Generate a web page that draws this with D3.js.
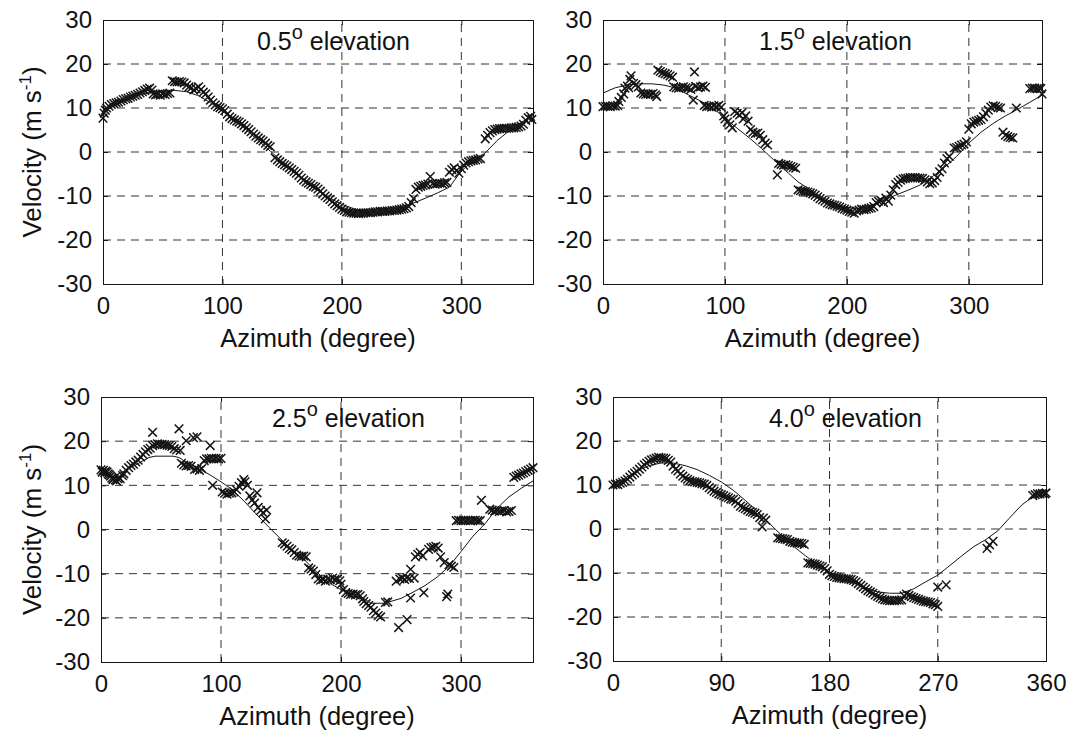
<!DOCTYPE html>
<html>
<head>
<meta charset="utf-8">
<script src="https://cdn.jsdelivr.net/npm/d3@7/dist/d3.min.js"></script>
<style>
  html, body { margin: 0; padding: 0; background: #fff; }
  svg { display: block; }
  text { font-family: "Liberation Sans", Arial, Helvetica, sans-serif; fill: #111; }
</style>
</head>
<body>
<svg id="chart" width="1070" height="734"></svg>
<script>
// Radial velocity vs azimuth at four elevation angles: observed (×) and fitted curve.
const elevations = ["0.5", "1.5", "2.5", "4.0"];
const velocityTicks = [-30, -20, -10, 0, 10, 20, 30];
const azimuthTicksA = [0, 100, 200, 300];
const azimuthTicksB = [0, 90, 180, 270, 360];

// Observed radial velocity, [azimuth deg, velocity m/s]
const obs05 = [[0,7.7],[1,8.8],[2,9.5],[3,10],[5,10.4],[7,10.8],[9,11],[11,11.2],[13,11.3],[15,11.6],[17,11.9],[19,12.1],[21,12.2],[23,12.5],[25,12.7],[27,12.9],[29,13.1],[31,13.4],[33,13.7],[35,14],[37,14.3],[39,14.5],[41,14.1],[42,13.2],[44,13],[46,13.1],[48,12.9],[50,13.2],[52,13.1],[54,13.3],[56,13.4],[58,16.2],[60,16],[62,15.9],[64,16],[66,15.9],[68,15.7],[70,15.2],[72,14.8],[74,14.6],[76,14.1],[78,14.4],[80,14.8],[82,14.2],[84,13.6],[86,13.2],[88,12.5],[90,11.8],[92,11.2],[94,10.7],[96,10.3],[98,10.1],[100,9.8],[102,9.4],[104,8.6],[106,8],[108,7.6],[110,7.3],[112,7],[114,6.8],[116,6.4],[118,6],[120,5.5],[122,5.1],[124,4.6],[126,4.1],[128,3.6],[130,3.2],[132,2.8],[134,2.5],[136,2],[138,1.5],[140,1.2],[144,-1.3],[146,-1.8],[148,-2.2],[150,-2.6],[152,-2.9],[154,-3.2],[156,-3.6],[158,-4],[160,-4.4],[162,-4.8],[164,-5.3],[166,-5.9],[168,-6.4],[170,-6.8],[172,-7.1],[174,-7.4],[176,-7.8],[178,-8],[180,-8.4],[182,-8.9],[184,-9.5],[186,-10],[188,-10.4],[190,-10.8],[192,-11.3],[194,-11.8],[196,-12.2],[198,-12.6],[200,-13],[202,-13.3],[204,-13.6],[206,-13.7],[208,-13.8],[210,-13.9],[212,-13.9],[214,-14],[216,-13.9],[218,-13.9],[220,-13.8],[222,-13.8],[224,-13.8],[226,-13.7],[228,-13.6],[230,-13.6],[232,-13.5],[234,-13.5],[236,-13.5],[238,-13.4],[240,-13.4],[242,-13.3],[244,-13.3],[246,-13.2],[248,-13.1],[250,-13],[252,-12.9],[254,-12.7],[256,-12.4],[258,-11.5],[260,-10.6],[262,-8.5],[264,-8],[266,-7.8],[268,-7.6],[270,-7.5],[272,-7.3],[274,-5.6],[276,-7.2],[278,-7.3],[280,-7.2],[282,-7.1],[284,-7.2],[286,-7],[288,-6.9],[290,-4.6],[292,-4],[294,-3.6],[296,-4.2],[298,-4.8],[300,-3.8],[302,-3],[304,-2.5],[306,-2.2],[308,-2],[310,-1.9],[312,-1.8],[314,-1.6],[316,-1.5],[320,3],[322,3.8],[324,4.4],[326,4.8],[328,5.1],[330,5.2],[332,5.3],[334,5.3],[336,5.4],[338,5.4],[340,5.4],[342,5.5],[344,5.5],[346,5.6],[348,5.7],[350,5.9],[352,6.3],[354,7.2],[356,7.8],[358,8.1],[359,7.4]];

const obs15 = [[0,10.3],[2,10.4],[4,10.4],[6,10.3],[8,10.5],[10,10.4],[12,10.6],[13,11.5],[15,12.4],[17,13.2],[18,14.5],[20,15],[21,14.6],[22,16.5],[23,17.3],[25,15.6],[27,15.3],[29,14.8],[31,13.4],[33,13.2],[35,13.1],[37,13.2],[39,13.1],[41,13.3],[43,13],[44,12.6],[45,18.6],[47,18.3],[49,18],[51,17.8],[53,17.6],[55,17.3],[57,17],[58,14.8],[60,14.6],[62,14.5],[64,14.7],[66,14.8],[68,14.6],[70,14.5],[72,14.2],[74,11.8],[75,18.2],[76,14.9],[78,14.6],[80,14.8],[82,15],[84,14.7],[83,10.6],[85,10.3],[87,10.4],[89,10.2],[91,10.5],[93,10.3],[95,10.6],[97,10.2],[99,8.2],[100,7.5],[102,6.8],[104,6.2],[106,5.5],[108,9.2],[110,8.8],[112,8.4],[114,8.9],[115,7.5],[117,8.2],[119,7],[121,5.1],[123,4.5],[125,4.2],[127,4.3],[129,3.8],[131,2.8],[133,2],[135,1.6],[143,-5.2],[144,-2.6],[146,-2.8],[148,-3],[150,-2.9],[152,-3.1],[154,-3.3],[156,-3.5],[158,-3.7],[160,-8.6],[162,-8.8],[164,-8.9],[166,-9],[168,-9.1],[170,-9.3],[172,-9.5],[174,-9.8],[176,-10.2],[178,-10.6],[180,-10.9],[182,-11.2],[184,-11.6],[186,-11.8],[188,-12],[190,-12.1],[192,-12.3],[194,-12.5],[196,-12.8],[198,-13],[200,-13.2],[202,-13.5],[204,-13.7],[206,-13.9],[208,-13.4],[210,-13.2],[212,-13],[214,-13.1],[216,-13],[218,-12.8],[220,-12.7],[222,-12.4],[224,-11.5],[226,-11.2],[228,-11],[230,-11.5],[232,-10.5],[234,-11.2],[236,-9.8],[238,-8.6],[240,-7.4],[242,-6.9],[244,-6.4],[246,-6.1],[248,-6],[250,-5.9],[252,-5.8],[254,-5.8],[256,-5.8],[258,-5.9],[260,-5.9],[262,-6],[264,-6.3],[266,-6.8],[268,-7.2],[270,-7],[272,-6.5],[274,-5.8],[276,-4.5],[278,-3.8],[280,-2.5],[282,-1.5],[284,-1],[288,0.9],[290,1],[292,1.3],[294,1.6],[296,1.8],[298,2.3],[300,5.2],[302,6.4],[304,6.8],[306,7],[308,7.2],[310,7.4],[312,8],[314,8.8],[316,9.5],[318,10.2],[320,10.5],[322,10.4],[324,10.1],[326,10],[328,4.5],[330,3.8],[332,3.5],[334,3.3],[336,3.2],[339,10],[350,14.4],[352,14.5],[354,14.5],[356,14.4],[358,14.5],[359,14.4],[360,13.2]];

const obs25 = [[0,13.5],[1,13],[2,13.4],[3,12.9],[4,13.2],[5,13],[6,12.6],[7,12.4],[8,12.1],[9,11.6],[10,11.3],[11,11.6],[12,11.2],[13,11],[14,11.5],[15,11.8],[16,11.5],[18,12.2],[19,12.6],[21,13.4],[23,14],[25,14.5],[27,14.8],[29,15.3],[31,15.7],[33,16.4],[35,17],[37,17.6],[39,18.1],[41,18.4],[43,22],[43,19],[45,19.2],[47,19.4],[49,19.3],[51,19.3],[53,19.2],[55,19.1],[57,19],[59,18.8],[61,18.3],[63,18],[65,22.8],[66,17.9],[67,15],[69,14.6],[71,14.4],[73,14.5],[75,14.3],[71,20.1],[77,20.8],[80,21],[78,13.6],[80,13.7],[82,13.4],[84,13.8],[86,15.6],[88,16],[90,16],[91,19],[92,16.1],[93,10],[94,16],[96,16.1],[98,16],[100,16.1],[101,8.5],[103,8.2],[105,8],[107,8.2],[109,8.3],[111,8.5],[113,9],[115,9.8],[117,10.6],[119,11.3],[120,10.8],[122,10],[124,7.6],[126,6.7],[128,6],[130,8.3],[131,5],[133,4.3],[135,3.8],[137,2.4],[138,4.4],[151,-3],[153,-3.3],[155,-3.8],[157,-4.3],[159,-4.6],[161,-5.2],[163,-5.8],[165,-6],[167,-6.1],[169,-6],[171,-6.2],[173,-8.7],[175,-9],[177,-9.4],[179,-10.2],[181,-11.2],[183,-11.5],[185,-11.3],[187,-11.7],[189,-11.2],[191,-11.4],[193,-11],[195,-11.3],[197,-11.2],[199,-11.6],[200,-12.4],[202,-13.6],[204,-14.3],[206,-14.5],[208,-14.7],[210,-14.6],[212,-14.8],[214,-14.7],[216,-15],[218,-15.7],[219,-16.3],[221,-16.8],[223,-17.2],[225,-17.6],[227,-18.4],[229,-18.9],[231,-19.5],[233,-19.8],[237,-16.5],[239,-16.4],[246,-11.7],[248,-22.2],[249,-11.2],[251,-11],[253,-11.3],[255,-20.4],[255,-10.9],[257,-11.1],[258,-9],[261,-11],[258,-15.5],[262,-6.2],[264,-5.6],[266,-5.2],[268,-6],[269,-14.3],[273,-4.5],[275,-4.1],[277,-4],[279,-3.8],[281,-4.2],[283,-6.2],[286,-7.5],[288,-15.2],[289,-14.6],[290,-8],[292,-8.3],[294,-8.6],[296,2],[298,2.1],[300,2],[302,2.1],[304,2],[306,2.1],[308,2],[310,2.1],[312,2.1],[314,2],[316,2],[317,6.6],[324,4.6],[326,4.4],[328,4.2],[330,4.3],[332,4.1],[334,4.2],[336,4.3],[338,4],[340,4.1],[342,4.3],[344,11.8],[346,12.1],[348,12.3],[350,12.6],[352,12.8],[354,13.1],[356,13.4],[358,13.7],[360,14]];

const obs40 = [[0,10],[2,10.2],[4,10.1],[6,10.4],[8,10.6],[10,10.9],[12,11.3],[14,11.8],[16,12.3],[18,12.7],[20,13.1],[22,13.6],[24,14.1],[26,14.6],[28,15],[30,15.4],[32,15.7],[34,15.9],[36,16.1],[38,16.3],[40,16.2],[42,16.1],[44,16],[46,15.6],[48,15.2],[50,14.3],[52,13.6],[54,13.2],[56,12.5],[58,12],[60,11.6],[62,11.3],[64,11],[66,10.8],[68,10.7],[70,10.6],[72,10.5],[74,10.3],[76,10.2],[78,9.9],[80,9.4],[82,9],[84,8.6],[86,8.3],[88,8],[90,7.8],[92,7.6],[94,7.3],[96,7.1],[98,6.8],[100,6.7],[102,6.3],[104,5.8],[106,5.2],[108,4.9],[110,4.6],[112,4.3],[114,4],[116,3.8],[118,3.6],[120,3.3],[122,2.6],[124,0.5],[125,2.5],[127,2],[137,-2],[139,-2.1],[141,-2.2],[143,-2.3],[145,-2.4],[147,-2.8],[149,-3],[151,-3.1],[153,-3.2],[155,-3.2],[157,-3.3],[159,-3.5],[162,-7.7],[164,-7.8],[166,-7.9],[168,-8],[170,-8.2],[172,-8.4],[174,-8.6],[176,-9],[178,-9.5],[180,-10.3],[182,-10.6],[184,-10.8],[186,-11],[188,-11.1],[190,-11.2],[192,-11.3],[194,-11.3],[196,-11.4],[198,-11.5],[200,-11.7],[202,-12],[204,-12.4],[206,-12.8],[208,-13.2],[210,-13.6],[212,-14],[214,-14.3],[216,-14.6],[218,-15],[220,-15.3],[222,-15.6],[224,-15.9],[226,-16.1],[228,-16.2],[230,-16.3],[232,-16.3],[234,-16.3],[236,-16.2],[238,-16.2],[240,-16.1],[242,-15.2],[244,-14.8],[246,-15.1],[248,-15.4],[250,-15.6],[252,-15.8],[254,-16],[256,-16.2],[258,-16.4],[260,-16.5],[262,-16.6],[264,-16.7],[266,-17],[268,-17.2],[270,-17.6],[270,-13.2],[277,-12.7],[311,-4.4],[313,-3.6],[316,-2.8],[349,7.6],[351,7.8],[353,8],[355,8],[357,8.1],[359,8],[360,8.2]];

// Fitted velocity curves, [azimuth deg, velocity m/s]
const fit05 = [[0,9],[10,10.6],[20,11.9],[30,12.9],[40,13.5],[50,13.9],[60,14],[70,13.7],[80,12.8],[90,11.2],[100,9.3],[110,7.2],[120,5],[130,2.6],[140,0.2],[150,-2.2],[160,-4.6],[170,-6.8],[180,-8.8],[190,-10.5],[200,-11.9],[210,-12.9],[220,-13.5],[230,-13.7],[240,-13.5],[250,-12.9],[260,-11.6],[270,-10.5],[280,-9.3],[290,-8],[300,-4.3],[310,-2],[320,-0.2],[330,2.6],[340,4.8],[350,6.7],[360,8.3]];
const fit15 = [[0,13.4],[10,14.6],[20,15.2],[30,15.5],[40,15.5],[50,15.2],[60,14.5],[70,13],[80,11.6],[90,10],[100,7.7],[110,5.4],[120,3.2],[130,0.8],[140,-1.8],[150,-4.3],[160,-6.8],[170,-8.6],[180,-10.3],[190,-11.7],[200,-12.6],[210,-12.8],[220,-12.2],[230,-11],[240,-9.8],[250,-8.7],[260,-7.5],[270,-5.6],[280,-3.5],[290,-1],[300,2],[310,4.5],[320,6.5],[330,8.2],[340,9.7],[350,11.3],[360,12.9]];
const fit25 = [[0,13],[5,12.2],[10,12],[20,13.3],[30,14.8],[40,16.3],[45,16.6],[60,16.6],[65,16.3],[70,15.4],[80,14],[90,12.5],[100,10.8],[110,8.9],[120,6.2],[130,3.3],[140,0.5],[150,-2.2],[160,-4.9],[170,-7],[180,-9.7],[190,-12.1],[200,-13.6],[210,-14.7],[220,-15.8],[225,-16.7],[235,-16.7],[240,-16.4],[250,-15.6],[260,-14.2],[270,-12.7],[280,-10.8],[290,-8.4],[300,-5],[310,-1.5],[320,1.3],[330,4.8],[340,7.4],[350,9.3],[360,11]];
const fit40 = [[0,10],[10,11.6],[20,13.2],[30,14.4],[40,15],[50,15],[60,14.4],[70,13.5],[80,12.2],[90,10.7],[100,8.8],[110,6.5],[120,4],[130,1.3],[140,-1.4],[150,-3.9],[160,-6.1],[170,-8],[180,-9.8],[190,-11.2],[200,-12.3],[210,-13.3],[220,-14.3],[230,-14.6],[240,-14.6],[250,-13.6],[260,-12],[270,-10.5],[280,-8.3],[290,-6.1],[300,-4],[310,-2.4],[320,-0.4],[330,2.6],[340,5.5],[350,7.5],[360,8.5]];

const panels = [
  { elev: elevations[0], obs: obs05, fit: fit05, ticks: azimuthTicksA, box: [103, 533, 20, 284], ylabel: true, titleX: 257 },
  { elev: elevations[1], obs: obs15, fit: fit15, ticks: azimuthTicksA, box: [603, 1042, 20, 284], ylabel: false, titleX: 759 },
  { elev: elevations[2], obs: obs25, fit: fit25, ticks: azimuthTicksA, box: [101, 533, 397, 662], ylabel: true, titleX: 272 },
  { elev: elevations[3], obs: obs40, fit: fit40, ticks: azimuthTicksB, box: [613, 1046, 397, 661], ylabel: false, titleX: 769 }
];

const svg = d3.select("#chart");
svg.append("rect").attr("width", 1070).attr("height", 734).attr("fill", "#fff");

const ink = "#151515";
const crossPath = "M-4.3,-4.3L4.3,4.3M-4.3,4.3L4.3,-4.3";
const plainInt = d => String(d);   // ASCII hyphen for negatives

panels.forEach(p => {
  const [x0, x1, y0, y1] = p.box;
  const x = d3.scaleLinear().domain([0, 360]).range([x0, x1]);
  const y = d3.scaleLinear().domain([-30, 30]).range([y1, y0]);
  const g = svg.append("g");

  // dashed grid
  const grid = g.append("g").attr("stroke", "#333").attr("stroke-width", 1)
    .attr("stroke-dasharray", "8,6").attr("fill", "none");
  p.ticks.filter(t => t > 0 && t < 360).forEach(t => {
    grid.append("line").attr("x1", x(t)).attr("x2", x(t)).attr("y1", y1).attr("y2", y0);
  });
  velocityTicks.filter(t => t > -30 && t < 30).forEach(t => {
    grid.append("line").attr("x1", x0).attr("x2", x1).attr("y1", y(t)).attr("y2", y(t));
  });

  // axes with inward ticks on all four sides
  const axB = d3.axisBottom(x).tickValues(p.ticks).tickSize(-5).tickPadding(10).tickFormat(plainInt);
  const axT = d3.axisTop(x).tickValues(p.ticks).tickSize(-5).tickFormat("");
  const axL = d3.axisLeft(y).tickValues(velocityTicks).tickSize(-5).tickPadding(11).tickFormat(plainInt);
  const axR = d3.axisRight(y).tickValues(velocityTicks).tickSize(-5).tickFormat("");

  const styleAxis = sel => {
    sel.select(".domain").attr("stroke", ink).attr("stroke-width", 1);
    sel.selectAll(".tick line").attr("stroke", ink);
    sel.selectAll(".tick text").attr("font-size", "24px").attr("fill", "#111")
      .style("font-family", "'Liberation Sans', Arial, sans-serif");
  };
  g.append("g").attr("transform", `translate(0,${y1})`).call(axB).call(styleAxis)
    .selectAll(".tick text").attr("dy", "0.85em");
  g.append("g").attr("transform", `translate(0,${y0})`).call(axT).call(styleAxis);
  g.append("g").attr("transform", `translate(${x0},0)`).call(axL).call(styleAxis);
  g.append("g").attr("transform", `translate(${x1},0)`).call(axR).call(styleAxis);

  // fitted curve
  g.append("path").datum(p.fit)
    .attr("fill", "none").attr("stroke", ink).attr("stroke-width", 1)
    .attr("d", d3.line().x(d => x(d[0])).y(d => y(d[1])));

  // observations
  g.append("g").selectAll("path").data(p.obs).join("path")
    .attr("transform", d => `translate(${x(d[0])},${y(d[1])})`)
    .attr("d", crossPath).attr("stroke", ink).attr("stroke-width", 1.5).attr("fill", "none");

  // elevation title
  const t = g.append("text").attr("x", p.titleX).attr("y", y(23.2)).attr("font-size", "25px");
  t.append("tspan").text(p.elev);
  t.append("tspan").attr("font-size", "20px").attr("dy", "-11").text("o");
  t.append("tspan").attr("dy", "11").text(" elevation");

  // x axis label
  g.append("text").attr("x", (x0 + x1) / 2).attr("y", y1 + 63)
    .attr("text-anchor", "middle").attr("font-size", "25.5px").text("Azimuth (degree)");

  // y axis label
  if (p.ylabel) {
    const yl = g.append("text")
      .attr("transform", `translate(41,${(y0 + y1) / 2}) rotate(-90)`)
      .attr("text-anchor", "middle").attr("font-size", "26px");
    yl.append("tspan").text("Velocity (m s");
    yl.append("tspan").attr("font-size", "17px").attr("dy", "-10").text("-1");
    yl.append("tspan").attr("dy", "10").text(")");
  }
});
</script>
</body>
</html>
